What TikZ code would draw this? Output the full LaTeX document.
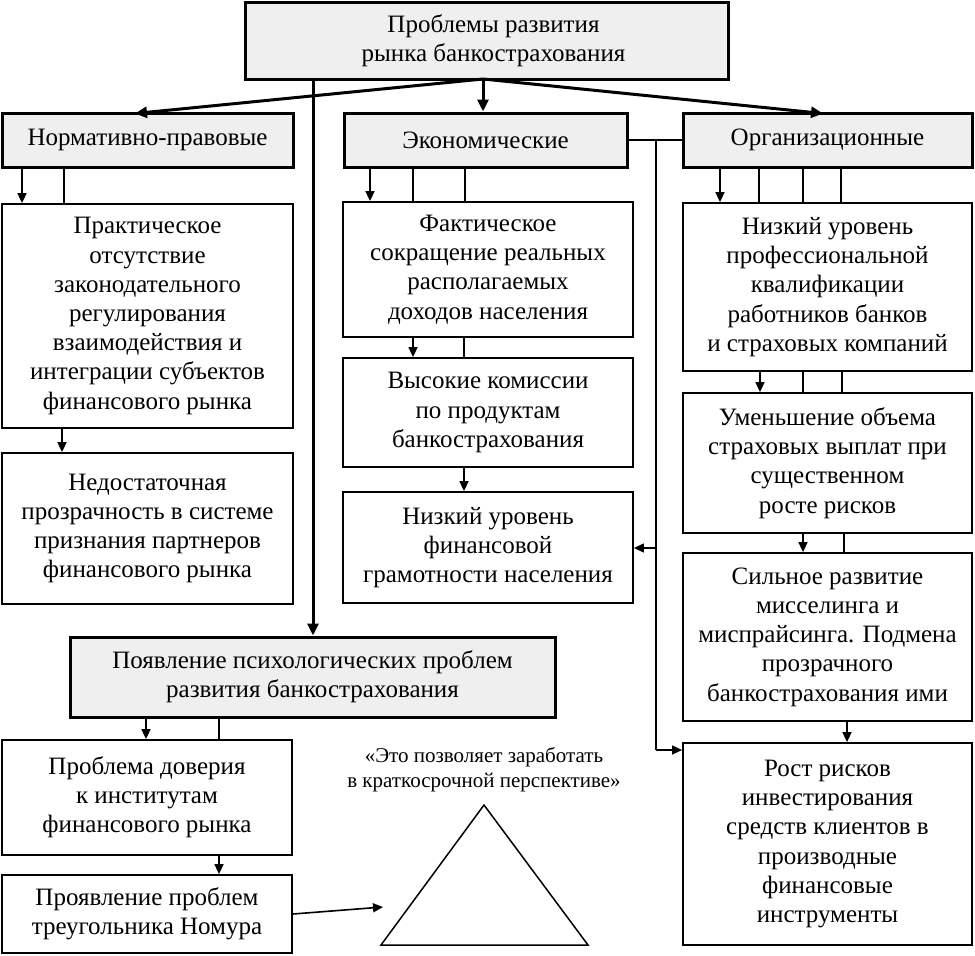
\documentclass[tikz,border=0pt]{standalone}
\usepackage{fontspec}
\setmainfont{Liberation Serif}
\usetikzlibrary{arrows.meta,calc}
\definecolor{boxgray}{RGB}{239,239,239}
\tikzset{
  base/.style={draw=black, align=center, inner sep=0pt, font=\fontsize{25}{29.2}\selectfont},
  headbox/.style={base, fill=boxgray, line width=3pt},
  itembox/.style={base, fill=white, line width=1.8pt},
  conn/.style={line width=1.6pt},
  arr/.style={conn, -{Triangle[length=10pt,width=9pt]}},
  bigarr/.style={line width=3pt, -{Triangle[length=12pt,width=11pt]}},
  quotetext/.style={align=center, inner sep=0pt, font=\fontsize{21}{25}\selectfont},
}
\begin{document}
\begin{tikzpicture}[x=1pt,y=-1pt]
\useasboundingbox (0,0) rectangle (975,956);

% header boxes
\node[headbox, minimum width=483pt, minimum height=77pt] (top) at (486.5,40.5) {\hspace*{14pt}Проблемы развития\\\hspace*{14pt}рынка банкострахования};
\node[headbox, minimum width=291pt, minimum height=54pt] (norm) at (147.5,140) {Нормативно-правовые};
\node[headbox, minimum width=283pt, minimum height=54pt] (econ) at (485.5,140) {Экономические};
\node[headbox, minimum width=289pt, minimum height=54pt] (org) at (827.5,140) {Организационные};
\node[headbox, minimum width=485pt, minimum height=80pt] (psy) at (312.5,677) {Появление психологических проблем\\развития банкострахования};

% left column
\node[itembox, minimum width=291pt, minimum height=224pt] (L1) at (147.5,316) {Практическое\\отсутствие\\законодательного\\регулирования\\взаимодействия и\\интеграции субъектов\\финансового рынка};
\node[itembox, minimum width=291pt, minimum height=151pt] (L2) at (147.5,528.5) {Недостаточная\\прозрачность в системе\\признания партнеров\\финансового рынка};

% middle column
\node[itembox, minimum width=290pt, minimum height=135pt] (M1) at (488,269.5) {Фактическое\\сокращение реальных\\располагаемых\\доходов населения};
\node[itembox, minimum width=290pt, minimum height=109pt] (M2) at (488,412.5) {Высокие комиссии\\по продуктам\\банкострахования};
\node[itembox, minimum width=290pt, minimum height=111pt] (M3) at (488,547.5) {Низкий уровень\\финансовой\\грамотности населения};

% right column
\node[itembox, minimum width=289pt, minimum height=168pt] (R1) at (827.5,287) {Низкий уровень\\профессиональной\\квалификации\\работников банков\\и страховых компаний};
\node[itembox, minimum width=289pt, minimum height=140pt] (R2) at (827.5,463) {Уменьшение объема\\страховых выплат при\\существенном\\росте рисков};
\node[itembox, minimum width=289pt, minimum height=168pt] (R3) at (827.5,637) {Сильное развитие\\мисселинга и\\миспрайсинга. Подмена\\прозрачного\\банкострахования ими};
\node[itembox, minimum width=289pt, minimum height=202pt] (R4) at (827.5,844) {Рост рисков\\инвестирования\\средств клиентов в\\производные\\финансовые\\инструменты};

% bottom left
\node[itembox, minimum width=290pt, minimum height=115pt] (B1) at (147,797.5) {Проблема доверия\\к институтам\\финансового рынка};
\node[itembox, minimum width=290pt, minimum height=78pt] (B2) at (147,914) {Проявление проблем\\треугольника Номура};

% Nomura triangle and quote
\coordinate (tL) at (381,945);
\coordinate (tA) at (484,805);
\coordinate (tR) at (588,945);
\draw[line width=1.5pt, line join=miter] (tL) -- (tA) -- (tR) -- cycle;
\node[quotetext] (quote) at (484,769.5) {«Это позволяет заработать\\в краткосрочной перспективе»};
\coordinate (tIn) at (383,907);
\draw[arr] (B2.east) -- (tIn);

% x positions of vertical connectors
\foreach \n/\x in {c22/22,c64/64,c62/62,c370/370,c413/413,c465/465,c464/464,
  c720/720,c759/759,c803/803,c841/841,c760/760,c842/842,c844/844,c847/847,
  c146/146,c219/219,c313/313,c483/483}
  {\coordinate (\n) at (\x,0);}

% from the top box
\coordinate (fork) at (483,79);
\draw[bigarr] (fork) -- (135,113.5) coordinate (normIn);
\draw[bigarr] (fork) -- (823,113.5) coordinate (orgIn);
\draw[bigarr] (top.south -| c483) -- (econ.north -| c483);
\draw[bigarr] (top.south -| c313) -- (psy.north -| c313);

% left column connectors
\draw[arr] (norm.south -| c22) -- (L1.north -| c22);
\draw[conn] (norm.south -| c64) -- (L1.north -| c64);
\draw[arr] (L1.south -| c62) -- (L2.north -| c62);

% middle column connectors
\draw[arr] (econ.south -| c370) -- (M1.north -| c370);
\draw[conn] (econ.south -| c413) -- (M1.north -| c413);
\draw[conn] (econ.south -| c465) -- (M1.north -| c465);
\draw[arr] (M1.south -| c413) -- (M2.north -| c413);
\draw[conn] (M1.south -| c464) -- (M2.north -| c464);
\draw[arr] (M2.south -| c464) -- (M3.north -| c464);

% right column connectors
\draw[arr] (org.south -| c720) -- (R1.north -| c720);
\draw[conn] (org.south -| c759) -- (R1.north -| c759);
\draw[conn] (org.south -| c803) -- (R1.north -| c803);
\draw[conn] (org.south -| c841) -- (R1.north -| c841);
\draw[arr] (R1.south -| c760) -- (R2.north -| c760);
\draw[conn] (R1.south -| c803) -- (R2.north -| c803);
\draw[conn] (R1.south -| c842) -- (R2.north -| c842);
\draw[arr] (R2.south -| c803) -- (R3.north -| c803);
\draw[conn] (R2.south -| c844) -- (R3.north -| c844);
\draw[arr] (R3.south -| c847) -- (R4.north -| c847);

% econ -- org link and the long thin line
\coordinate (jn) at (656,140);
\coordinate (m3j) at (656,548);
\coordinate (r4j) at (656,750);
\draw[conn, line width=1.3pt] (econ.east) -- (org.west);
\draw[conn, line width=1.3pt] (jn) -- (r4j);
\draw[arr, line width=1.3pt] (m3j) -- (M3.east |- m3j);
\draw[arr, line width=1.3pt] (r4j) -- (R4.west |- r4j);

% bottom connectors
\draw[arr] (psy.south -| c146) -- (B1.north -| c146);
\draw[conn] (psy.south -| c219) -- (B1.north -| c219);
\draw[arr] (B1.south -| c219) -- (B2.north -| c219);
\end{tikzpicture}
\end{document}
